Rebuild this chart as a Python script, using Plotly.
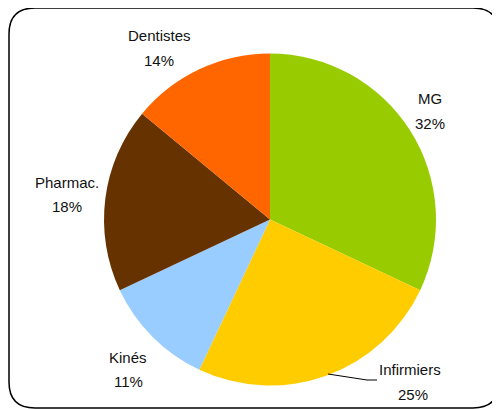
import plotly.graph_objects as go

labels = ["MG", "Infirmiers", "Kinés", "Pharmac.", "Dentistes"]
values = [32, 25, 11, 18, 14]
colors = ["#99CC00", "#FFCC00", "#99CCFF", "#663300", "#FF6600"]

OFF = 8  # page body margin
W, H = 500 - OFF, 409 - OFF

def px(x):
    return (x - OFF) / W

def py(y):
    return 1 - (y - OFF) / H

fig = go.Figure(go.Pie(
    labels=labels, values=values, sort=False, direction="clockwise", rotation=0,
    marker=dict(colors=colors, line=dict(width=0)),
    textinfo="none", hoverinfo="label+percent", showlegend=False,
    domain=dict(x=[px(104), px(436)], y=[py(386), py(53)]),
))

# (x centre, y of name line, y of percent line, x of percent line)
label_pos = {
    "MG": (430, 99, 123, 430),
    "Infirmiers": (410, 369, 394, 413),
    "Kinés": (128, 357, 381, 128),
    "Pharmac.": (67, 182, 206, 67),
    "Dentistes": (159, 35, 60, 159),
}
total = sum(values)
font = dict(family="Liberation Sans, Arial", size=15, color="#111111")
annotations = []
for lab, val in zip(labels, values):
    x, yn, yp, xp = label_pos[lab]
    annotations.append(dict(x=px(x), y=py(yn), xref="paper", yref="paper",
                            text=lab, showarrow=False, xanchor="center",
                            yanchor="middle", font=font))
    annotations.append(dict(x=px(xp), y=py(yp), xref="paper", yref="paper",
                            text=f"{round(val * 100 / total)}%", showarrow=False,
                            xanchor="center", yanchor="middle", font=font))

r = 26
x0, x1, y0, y1 = 9, 499, 8, 408
path = (f"M {px(x0 + r)},{py(y0)} L {px(x1 - r)},{py(y0)} "
        f"Q {px(x1)},{py(y0)} {px(x1)},{py(y0 + r)} "
        f"L {px(x1)},{py(y1 - r)} Q {px(x1)},{py(y1)} {px(x1 - r)},{py(y1)} "
        f"L {px(x0 + r)},{py(y1)} Q {px(x0)},{py(y1)} {px(x0)},{py(y1 - r)} "
        f"L {px(x0)},{py(y0 + r)} Q {px(x0)},{py(y0)} {px(x0 + r)},{py(y0)} Z")
leader = f"M {px(328)},{py(374)} L {px(367)},{py(380)} L {px(377)},{py(380)}"

fig.update_layout(
    width=W, height=H, margin=dict(l=0, r=0, t=0, b=0),
    paper_bgcolor="white", plot_bgcolor="white",
    annotations=annotations,
    shapes=[
        dict(type="path", path=path, xref="paper", yref="paper",
             line=dict(color="black", width=1.5)),
        dict(type="path", path=leader, xref="paper", yref="paper",
             line=dict(color="black", width=1)),
    ],
)

fig.write_html("out.html")
